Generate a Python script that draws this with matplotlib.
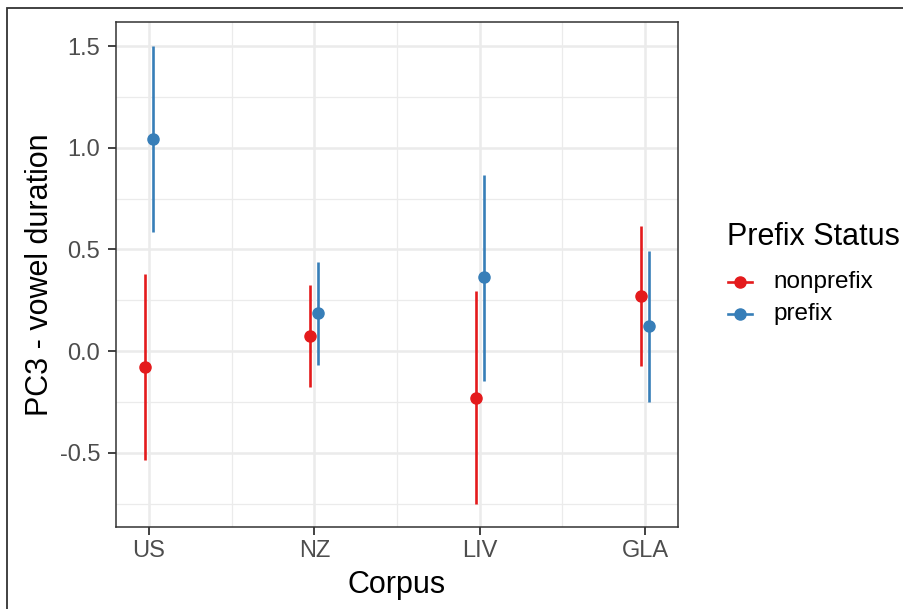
import numpy as np
import matplotlib
matplotlib.use("Agg")
import matplotlib.pyplot as plt
from matplotlib.lines import Line2D
from matplotlib.patches import Rectangle

plt.rcParams['font.family'] = ['Liberation Sans', 'DejaVu Sans']

# dados
corpora = ["US", "NZ", "LIV", "GLA"]
groups = ["nonprefix", "prefix"]
mean_nonprefix = [-0.076, 0.074, -0.229, 0.272]
low_nonprefix = [-0.534, -0.175, -0.751, -0.074]
high_nonprefix = [0.381, 0.327, 0.294, 0.617]
mean_prefix = [1.043, 0.188, 0.364, 0.123]
low_prefix = [0.585, -0.069, -0.146, -0.249]
high_prefix = [1.500, 0.436, 0.868, 0.492]
yticks = [-0.5, 0.0, 0.5, 1.0, 1.5]

cores = {"nonprefix": "#E41A1C", "prefix": "#377EB8"}
W, H = 904, 609

fig = plt.figure(figsize=(9.04, 6.09), dpi=100)
ax = fig.add_axes([116/W, 1 - 527/H, (678 - 116)/W, (527 - 22)/H])

# moldura externa (cortada na imagem original)
fig.patches.append(Rectangle((7/W, -0.1), 1.2, 1 - 8/H + 0.1, transform=fig.transFigure,
                             fill=False, edgecolor="#333333", linewidth=1.3, zorder=0))

x = np.arange(1, len(corpora) + 1)
dodge = 0.024
series = [
    ("nonprefix", mean_nonprefix, low_nonprefix, high_nonprefix, -dodge),
    ("prefix", mean_prefix, low_prefix, high_prefix, dodge),
]
for nome, m, lo, hi, off in series:
    xs = x + off
    ax.vlines(xs, lo, hi, color=cores[nome], linewidth=1.9, zorder=3)
    ax.plot(xs, m, "o", color=cores[nome], markersize=8, zorder=4, linestyle="none")

ax.set_xlim(0.8, 4.2)
ax.set_ylim(-0.864, 1.618)
ax.set_xticks(x)
ax.set_xticklabels(corpora)
ax.set_xticks([1.5, 2.5, 3.5], minor=True)
ax.set_yticks(yticks)
ax.set_yticklabels([f"{v:.1f}" for v in yticks])
ax.set_yticks([-0.75, -0.25, 0.25, 0.75, 1.25], minor=True)

ax.grid(which="major", color="#EBEBEB", linewidth=1.8, zorder=0)
ax.grid(which="minor", color="#EBEBEB", linewidth=0.9, zorder=0)
ax.set_axisbelow(True)
ax.tick_params(which="minor", length=0)
ax.tick_params(which="major", length=6, width=1.3, color="#333333",
               labelsize=17, labelcolor="#4D4D4D")
ax.tick_params(axis="y", pad=5.5)
ax.tick_params(axis="x", pad=3.2)
for s in ax.spines.values():
    s.set_color("#333333")
    s.set_linewidth(1.1)

ax.set_xlabel("Corpus", fontsize=22, labelpad=6)
ax.set_ylabel("PC3 - vowel duration", fontsize=22, labelpad=3.5)

# legenda desenhada à mão
fig.text(727/W, 1 - 237/H, "Prefix Status", fontsize=22, ha="left", va="center")
for i, g in enumerate(groups):
    yy = 1 - (282 + 32*i)/H
    fig.add_artist(Line2D([728/W, 752/W], [yy, yy], color=cores[g], linewidth=1.9,
                          transform=fig.transFigure))
    fig.add_artist(Line2D([740/W], [yy], color=cores[g], marker="o", markersize=8,
                          linestyle="none", transform=fig.transFigure))
    fig.text(773/W, yy, g, fontsize=17.5, ha="left", va="center")

fig.savefig("out.png", dpi=100)
